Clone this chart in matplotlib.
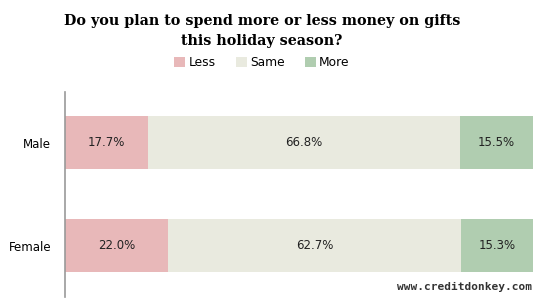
import matplotlib.pyplot as plt
from matplotlib.patches import Patch

groups = ["Male", "Female"]
series = ["Less", "Same", "More"]
values = {
    "Less": [17.7, 22.0],
    "Same": [66.8, 62.7],
    "More": [15.5, 15.3],
}
colors = {"Less": "#e8b8b9", "Same": "#e9eadf", "More": "#b0cdb0"}

fig = plt.figure(figsize=(5.5, 3.0), dpi=100)
ax = fig.add_axes([65 / 550, 0.01, 468 / 550, 0.683])

left = [0.0] * len(groups)
for s in series:
    bars = ax.barh(range(len(groups)), values[s], left=left, height=0.515,
                   color=colors[s], edgecolor="none")
    for i, b in enumerate(bars):
        ax.text(b.get_x() + b.get_width() / 2, b.get_y() + b.get_height() / 2,
                f"{values[s][i]:.1f}%", ha="center", va="center",
                fontsize=8.5, color="#222222")
    left = [l + v for l, v in zip(left, values[s])]

ax.set_xlim(0, 100)
ax.set_ylim(1.5, -0.49)
ax.set_yticks(range(len(groups)))
ax.set_yticklabels(groups, fontsize=8.5)
ax.tick_params(axis="y", length=0, pad=10)
ax.set_xticks([])
for sp in ["top", "right", "bottom"]:
    ax.spines[sp].set_visible(False)
ax.spines["left"].set_color("#999999")
ax.spines["left"].set_linewidth(1.2)

fig.text(262 / 550, 1 - 31 / 300, "Do you plan to spend more or less money on gifts\nthis holiday season?",
         ha="center", va="center", fontsize=10.3, fontweight="bold",
         family="DejaVu Serif", linespacing=1.6)

handles = [Patch(facecolor=colors[s], edgecolor="none", label=s) for s in series]
fig.legend(handles=handles, loc="center", bbox_to_anchor=(262 / 550, 1 - 63 / 300), ncol=3,
           frameon=False, fontsize=8.8, handlelength=0.9, handleheight=0.9,
           handletextpad=0.3, columnspacing=1.6)

fig.text(532 / 550, 1 - 287 / 300, "www.creditdonkey.com", ha="right", va="center",
         fontsize=8, fontweight="bold", family="DejaVu Sans Mono", color="#333333")

fig.savefig("out.png", dpi=100)
